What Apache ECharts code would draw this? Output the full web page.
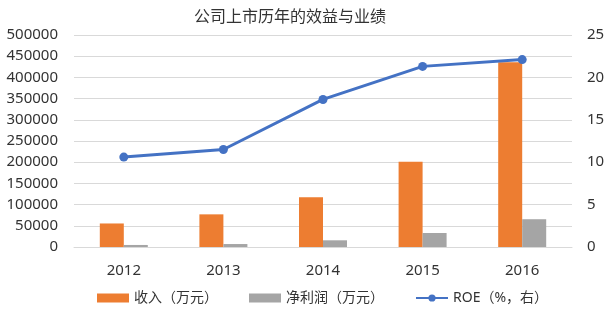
<!DOCTYPE html>
<html>
<head>
<meta charset="utf-8">
<script src="https://cdn.jsdelivr.net/npm/echarts@6/dist/echarts.min.js"></script>
<style>
  html, body { margin: 0; padding: 0; background: #fff; }
  #main { width: 609px; height: 312px; }
</style>
</head>
<body>
<div id="main"></div>
<script>
var years = ['2012', '2013', '2014', '2015', '2016'];
var revenue = [55500, 77000, 117500, 201000, 436000];   // 收入（万元）
var profit = [4800, 7000, 15800, 33000, 65500];         // 净利润（万元）
var roe = [10.6, 11.5, 17.4, 21.3, 22.1];               // ROE（%，右）

var font = '"Noto Sans", "Noto Sans CJK SC", sans-serif';
var txt = '#333333';
var gridColor = '#D9D9D9';

var myChart = echarts.init(document.getElementById('main'), null, { renderer: 'canvas' });

var option = {
  animation: false,
  textStyle: { fontFamily: font },
  title: {
    text: '公司上市历年的效益与业绩',
    left: 285,
    textAlign: 'center',
    top: 4,
    textStyle: { fontSize: 16, fontWeight: 'normal', color: txt, fontFamily: font }
  },
  legend: {
    left: 97,
    top: 291,
    padding: 0,
    itemWidth: 32,
    itemHeight: 9,
    itemGap: 31,
    textStyle: { fontSize: 14, color: txt, fontFamily: font },
    data: [
      { name: '收入（万元）', icon: 'rect' },
      { name: '净利润（万元）', icon: 'rect' },
      { name: 'ROE（%，右）' }
    ]
  },
  grid: { left: 74, right: 37, top: 35, bottom: 65 },
  xAxis: {
    type: 'category',
    data: years,
    axisTick: { show: false },
    axisLine: { lineStyle: { color: gridColor } },
    axisLabel: { color: txt, fontSize: 15, margin: 16, fontFamily: font }
  },
  yAxis: [
    {
      type: 'value',
      min: 0,
      max: 500000,
      interval: 50000,
      axisLine: { show: false },
      axisTick: { show: false },
      splitLine: { lineStyle: { color: gridColor, width: 1 } },
      axisLabel: {
        color: txt, fontSize: 15, margin: 16, fontFamily: font,
        formatter: function (v) { return String(v); }
      }
    },
    {
      type: 'value',
      min: 0,
      max: 25,
      interval: 5,
      axisLine: { show: false },
      axisTick: { show: false },
      splitLine: { show: false },
      axisLabel: { color: txt, fontSize: 15, margin: 15, fontFamily: font }
    }
  ],
  series: [
    {
      name: '收入（万元）',
      type: 'bar',
      data: revenue,
      barWidth: 24,
      barGap: '0%',
      itemStyle: { color: '#ED7D31' }
    },
    {
      name: '净利润（万元）',
      type: 'bar',
      data: profit,
      barWidth: 24,
      itemStyle: { color: '#A5A5A5' }
    },
    {
      name: 'ROE（%，右）',
      type: 'line',
      yAxisIndex: 1,
      data: roe,
      symbol: 'circle',
      symbolSize: 9,
      lineStyle: { color: '#4472C4', width: 3 },
      itemStyle: { color: '#4472C4' }
    }
  ]
};

myChart.setOption(option);
window.addEventListener('resize', myChart.resize);
</script>
</body>
</html>
